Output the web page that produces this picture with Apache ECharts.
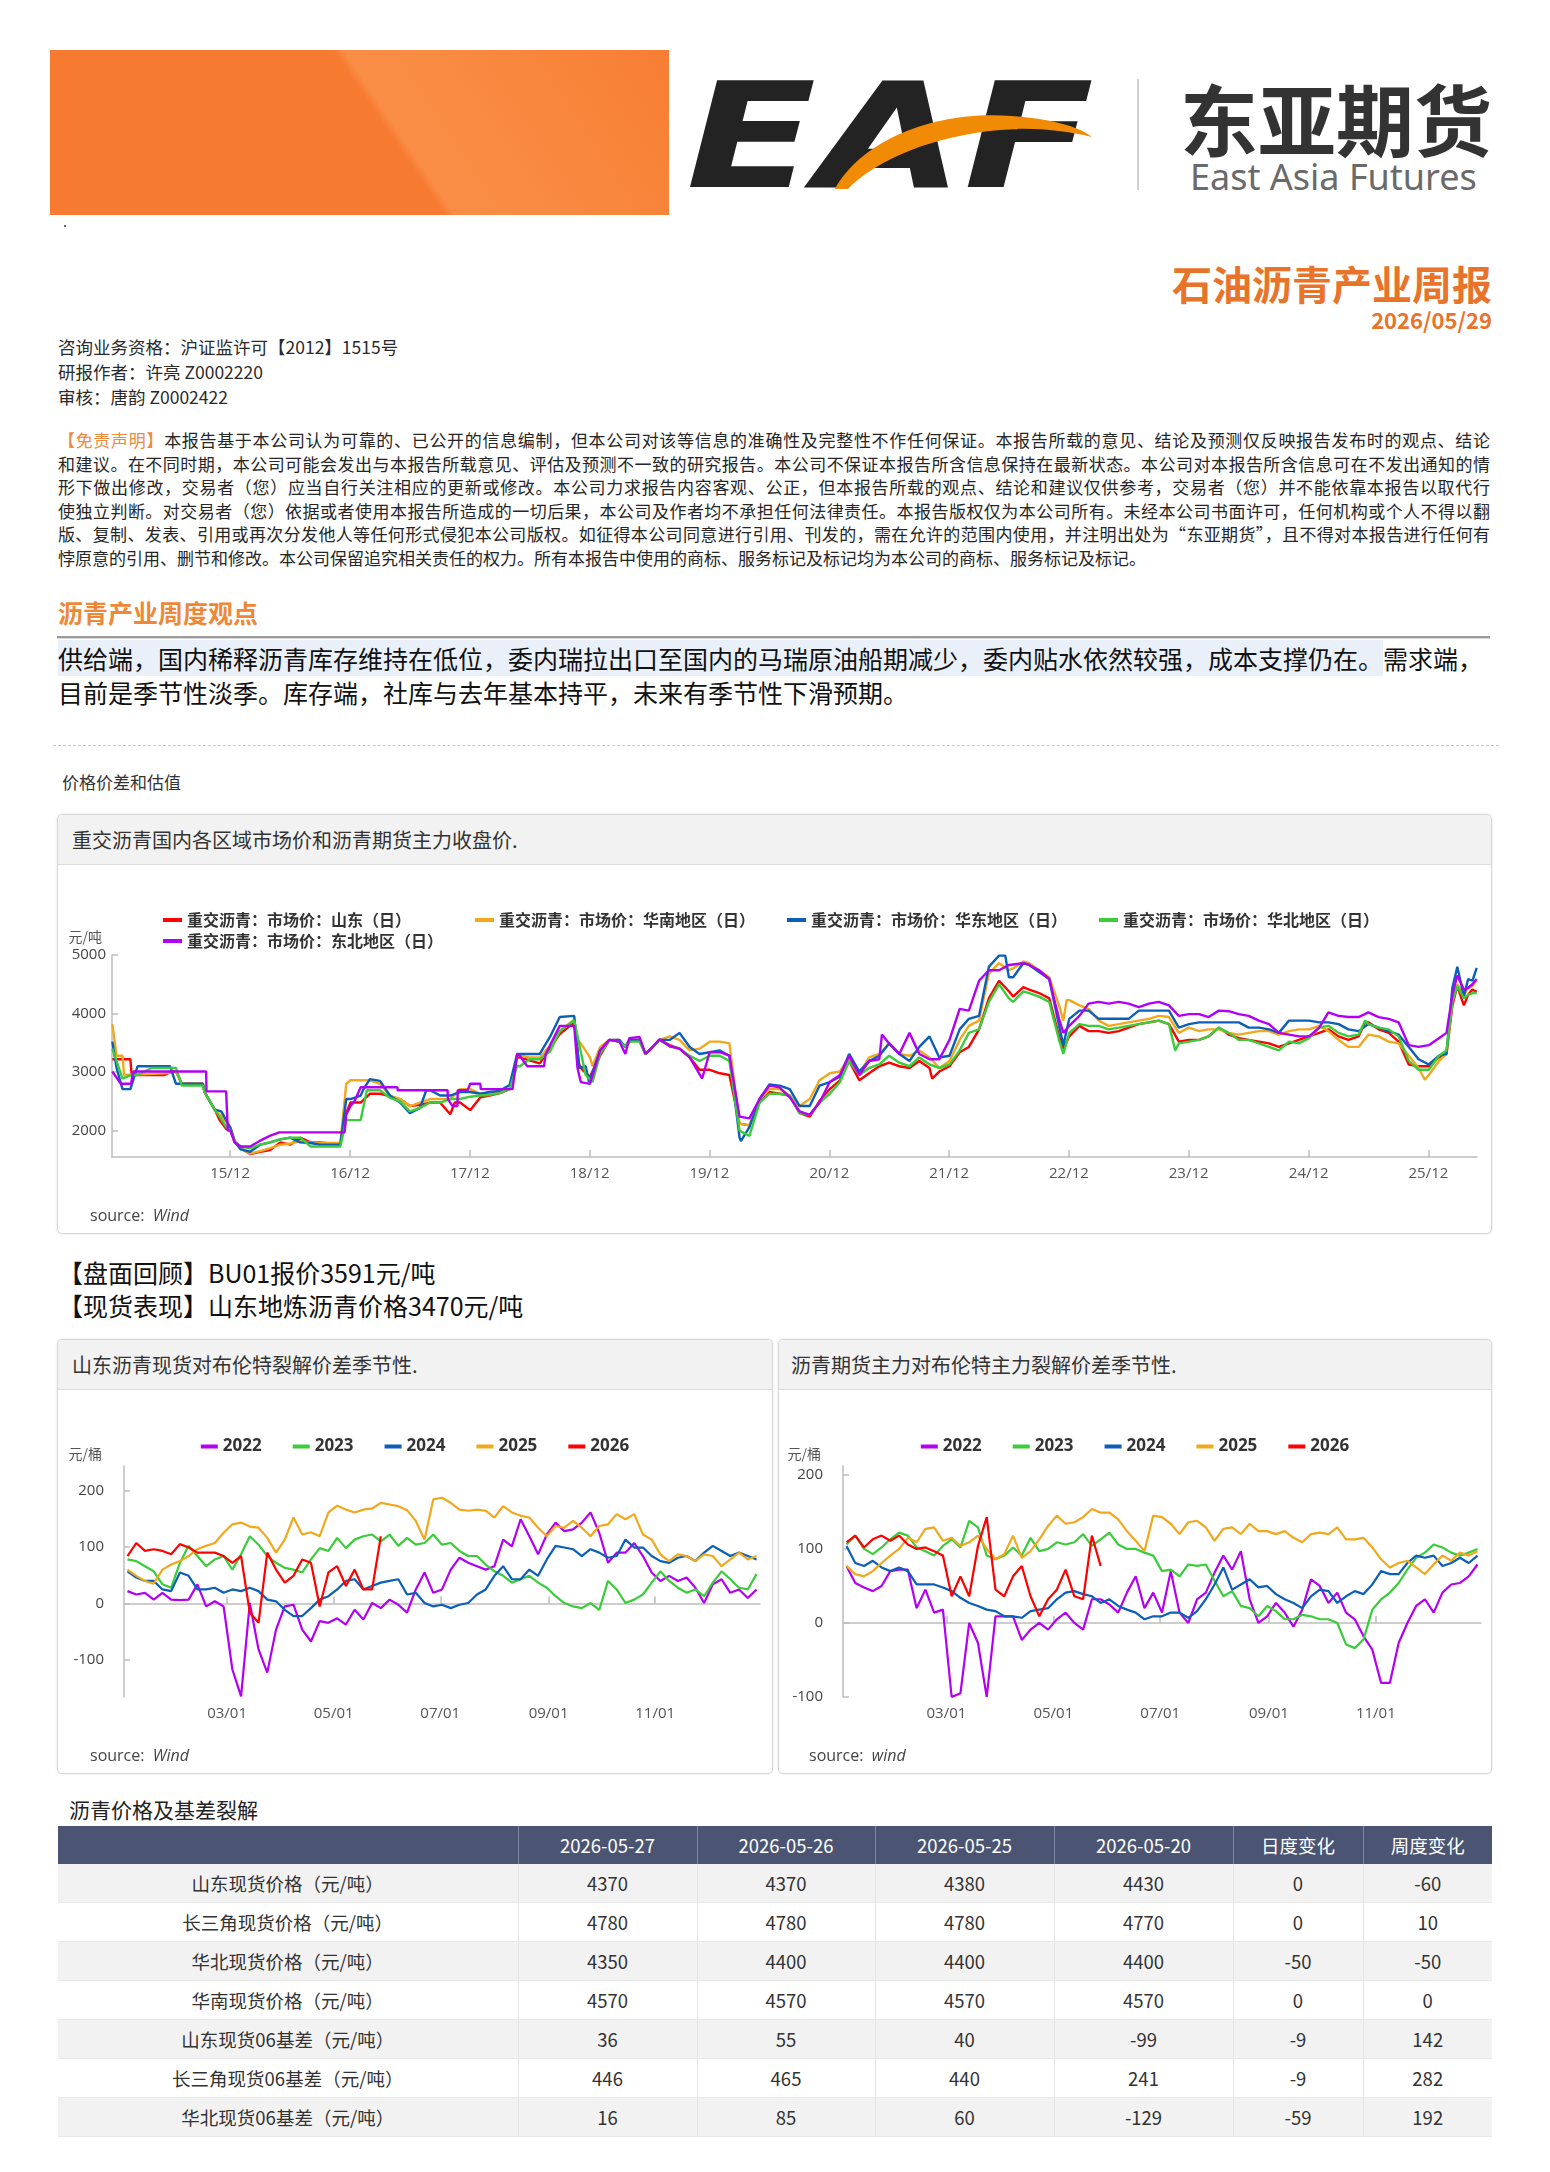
<!DOCTYPE html>
<html><head><meta charset="utf-8">
<script src="https://cdn.jsdelivr.net/npm/echarts@6/dist/echarts.min.js"></script>
<style>
html,body{margin:0;padding:0;background:#fff}
body{width:1550px;height:2172px;position:relative;overflow:hidden;font-family:"Noto Sans CJK SC","Noto Sans",sans-serif;color:#222}
.abs{position:absolute;white-space:nowrap}
.banner{position:absolute;left:50px;top:50px;width:619px;height:165px;
 background:linear-gradient(56deg,#F77A31 0%,#F77A31 54%,#FA8E46 55.5%,#F98A41 70%,#F8843A 85%,#F77E34 100%)}
.info{font-size:17.5px;line-height:20px;color:#2a2a2a;left:58px}
.disc{position:absolute;left:58px;top:428px;width:1432px;font-size:17px;line-height:23.6px;color:#262626}
.disc div{text-align:justify;text-align-last:justify;white-space:nowrap}
.disc div.last{text-align-last:left}
.view{position:absolute;left:58px;width:1417px;font-size:25px;line-height:32px;color:#111}
.card{position:absolute;box-sizing:border-box;border:1px solid #d6d6d6;border-radius:5px;background:#fff;box-shadow:0 0 3px rgba(0,0,0,0.10)}
.card .hd{height:49px;background:#f2f2f2;border-bottom:1px solid #dcdcdc;border-radius:5px 5px 0 0;font-size:20px;line-height:49px;color:#333;white-space:nowrap}
.chart{position:absolute}
table{position:absolute;left:58px;top:1826px;width:1434px;border-collapse:collapse;table-layout:fixed;font-size:18.5px;color:#333}
th{background:#4B5573;color:#fff;font-weight:normal;height:38px;border-left:1px solid #7d86a0;padding:0}
td{height:38px;text-align:center;border-left:1px solid #e4e4e4;border-bottom:1px solid #e8e8e8;padding:0}
tr:nth-child(even) td{background:#F2F2F2}
</style></head>
<body>
<div class="banner"></div>
<svg class="abs" style="left:0;top:0" width="1100" height="230">
 <text x="686" y="187" font-family="DejaVu Sans" font-weight="bold" font-style="italic" font-size="146" textLength="408" lengthAdjust="spacingAndGlyphs" fill="#232323">EAF</text>
 <path d="M 835 189 C 862 140, 935 110, 1012 116 C 1052 119, 1080 127, 1092 137 C 1062 130, 1030 127, 1000 130 C 932 136, 876 160, 848 189 Z" fill="#F18A05"/>
 <rect x="64" y="225" width="2" height="2" fill="#666"/>
</svg>
<div class="abs" style="left:1137px;top:79px;width:2px;height:111px;background:#d0d0d0"></div>
<div class="abs" style="left:1180px;top:87px;font-size:78px;line-height:60px;font-weight:bold;color:#333">东亚期货</div>
<div class="abs" style="left:1190px;top:163px;font-size:36px;line-height:27px;color:#6a6a6a;font-family:'Noto Sans',sans-serif">East Asia Futures</div>

<div class="abs" style="right:58px;top:263px;font-size:40px;line-height:40px;font-weight:bold;color:#E8742C">石油沥青产业周报</div>
<div class="abs" style="right:58px;top:308px;font-size:22px;line-height:22px;font-weight:bold;color:#E8742C">2026/05/29</div>

<div class="abs info" style="top:337px">咨询业务资格：沪证监许可【2012】1515号</div>
<div class="abs info" style="top:362px">研报作者：许亮 Z0002220</div>
<div class="abs info" style="top:387px">审核：唐韵 Z0002422</div>

<div class="disc">
<div><span style="color:#F08A3C">【免责声明】</span>本报告基于本公司认为可靠的、已公开的信息编制，但本公司对该等信息的准确性及完整性不作任何保证。本报告所载的意见、结论及预测仅反映报告发布时的观点、结论</div>
<div>和建议。在不同时期，本公司可能会发出与本报告所载意见、评估及预测不一致的研究报告。本公司不保证本报告所含信息保持在最新状态。本公司对本报告所含信息可在不发出通知的情</div>
<div>形下做出修改，交易者（您）应当自行关注相应的更新或修改。本公司力求报告内容客观、公正，但本报告所载的观点、结论和建议仅供参考，交易者（您）并不能依靠本报告以取代行</div>
<div>使独立判断。对交易者（您）依据或者使用本报告所造成的一切后果，本公司及作者均不承担任何法律责任。本报告版权仅为本公司所有。未经本公司书面许可，任何机构或个人不得以翻</div>
<div>版、复制、发表、引用或再次分发他人等任何形式侵犯本公司版权。如征得本公司同意进行引用、刊发的，需在允许的范围内使用，并注明出处为“东亚期货”，且不得对本报告进行任何有</div>
<div class="last">悖原意的引用、删节和修改。本公司保留追究相关责任的权力。所有本报告中使用的商标、服务标记及标记均为本公司的商标、服务标记及标记。</div>
</div>

<div class="abs" style="left:58px;top:597px;font-size:25px;line-height:30px;font-weight:bold;color:#EE8837">沥青产业周度观点</div>
<div class="abs" style="left:57px;top:636px;width:1433px;height:2px;background:#9b9b9b;border-bottom:1px solid #d8d8d8"></div>
<div class="view" style="top:642px;text-align:justify;text-align-last:justify;white-space:nowrap"><span style="background:#EAF0FA">供给端，国内稀释沥青库存维持在低位，委内瑞拉出口至国内的马瑞原油船期减少，委内贴水依然较强，成本支撑仍在。</span>需求端，</div>
<div class="view" style="top:676px">目前是季节性淡季。库存端，社库与去年基本持平，未来有季节性下滑预期。</div>

<div class="abs" style="left:53px;top:745px;width:1446px;border-top:1px dashed #c9c9c9"></div>
<div class="abs" style="left:62px;top:772px;font-size:17px;line-height:20px;color:#333">价格价差和估值</div>

<div class="card" style="left:57px;top:814px;width:1435px;height:420px"><div class="hd" style="padding-left:14px">重交沥青国内各区域市场价和沥青期货主力收盘价.</div></div>
<div class="chart" id="c1" style="left:58px;top:865px;width:1433px;height:368px"></div>

<div class="abs" style="left:58px;top:1257px;font-size:25px;line-height:30px;color:#111">【盘面回顾】BU01报价3591元/吨</div>
<div class="abs" style="left:58px;top:1290px;font-size:25px;line-height:30px;color:#111">【现货表现】山东地炼沥青价格3470元/吨</div>

<div class="card" style="left:57px;top:1339px;width:716px;height:435px"><div class="hd" style="padding-left:14px">山东沥青现货对布伦特裂解价差季节性.</div></div>
<div class="chart" id="c2" style="left:58px;top:1390px;width:714px;height:383px"></div>
<div class="card" style="left:778px;top:1339px;width:714px;height:435px"><div class="hd" style="padding-left:12px">沥青期货主力对布伦特主力裂解价差季节性.</div></div>
<div class="chart" id="c3" style="left:779px;top:1390px;width:712px;height:383px"></div>

<div class="abs" style="left:69px;top:1796px;font-size:21px;line-height:26px;color:#222">沥青价格及基差裂解</div>
<table id="tbl"></table>

<script>
// ---------------- chart 1: regional market prices (元/吨) ----------------
const priceLegend = ['重交沥青：市场价：山东（日）','重交沥青：市场价：华南地区（日）','重交沥青：市场价：华东地区（日）','重交沥青：市场价：华北地区（日）','重交沥青：市场价：东北地区（日）'];
const priceColors = ['#FF0000','#F2A81D','#0B5FB8','#3ACC3A','#B300F5'];
const priceTickYears = [2015,2016,2017,2018,2019,2020,2021,2022,2023,2024,2025];
const priceYTicks = [2000,3000,4000,5000];

const shandong = [['2015-01-06',3220],['2015-03-02',3220],['2015-03-06',2950],['2015-06-14',2950],['2015-07-06',3010],['2015-07-19',3010],['2015-08-06',2800],['2015-10-09',2800],['2015-10-14',2660],['2015-11-14',2360],['2015-11-29',2180],['2015-12-19',2030],['2016-01-01',2000],['2016-01-14',1800],['2016-02-01',1700],['2016-03-01',1600],['2016-04-01',1640],['2016-05-01',1670],['2016-06-01',1800],['2016-07-01',1760],['2016-08-01',1880],['2016-09-01',1800],['2016-10-01',1800],['2016-11-01',1780],['2016-12-01',1780],['2016-12-19',2300],['2017-01-01',2480],['2017-02-01',2480],['2017-03-01',2630],['2017-04-01',2630],['2017-05-01',2590],['2017-06-01',2540],['2017-07-01',2420],['2017-08-01',2440],['2017-09-01',2480],['2017-10-01',2480],['2017-11-01',2280],['2017-11-15',2480],['2017-12-01',2480],['2018-01-01',2350],['2018-02-01',2570],['2018-03-01',2600],['2018-04-01',2640],['2018-05-01',2710],['2018-05-24',3250],['2018-06-01',3250],['2018-07-01',3200],['2018-08-01',3150],['2018-09-01',3400],['2018-10-01',3650],['2018-11-14',3850],['2018-11-29',3130],['2018-12-09',3040],['2019-01-01',2920],['2019-02-01',3280],['2019-03-01',3550],['2019-04-01',3520],['2019-04-19',3430],['2019-05-01',3520],['2019-06-01',3550],['2019-06-19',3310],['2019-07-01',3370],['2019-08-01',3550],['2019-09-01',3460],['2019-10-01',3400],['2019-11-01',3250],['2019-12-01',3040],['2020-01-01',3040],['2020-02-01',2980],['2020-03-01',2950],['2020-04-01',2120],['2020-05-01',2090],['2020-06-01',2480],['2020-07-01',2660],['2020-08-01',2630],['2020-09-01',2600],['2020-10-01',2300],['2020-11-01',2240],['2020-12-01',2510],['2021-01-01',2710],['2021-02-01',2860],['2021-03-01',3190],['2021-04-01',2860],['2021-05-01',2980],['2021-06-01',3100],['2021-07-01',3160],['2021-08-01',3100],['2021-09-01',3070],['2021-10-01',3190],['2021-11-01',3070],['2021-11-09',2890],['2021-12-01',3010],['2022-01-01',3100],['2022-02-01',3340],['2022-03-01',3430],['2022-04-01',3730],['2022-05-01',4260],['2022-06-01',4560],['2022-07-01',4380],['2022-07-14',4290],['2022-08-14',4450],['2022-09-01',4410],['2022-10-01',4350],['2022-11-01',4260],['2022-12-01',3610],['2022-12-14',3400],['2023-01-01',3610],['2023-02-01',3790],['2023-03-01',3700],['2023-04-01',3700],['2023-05-01',3670],['2023-06-01',3700],['2023-07-01',3760],['2023-08-01',3820],['2023-09-01',3850],['2023-10-01',3880],['2023-11-01',3820],['2023-12-01',3520],['2024-01-01',3550],['2024-02-01',3550],['2024-03-01',3610],['2024-04-01',3760],['2024-05-01',3640],['2024-06-01',3580],['2024-07-01',3550],['2024-08-01',3520],['2024-09-01',3490],['2024-10-01',3430],['2024-11-01',3490],['2024-12-01',3550],['2025-01-01',3610],['2025-02-01',3670],['2025-03-01',3730],['2025-04-01',3610],['2025-05-01',3550],['2025-06-01',3610],['2025-06-21',3850],['2025-07-01',3850],['2025-08-01',3730],['2025-09-01',3670],['2025-10-01',3520],['2025-11-01',3130],['2025-12-01',3100],['2026-01-01',3100],['2026-02-01',3250],['2026-02-24',3310],['2026-03-14',4140],['2026-03-29',4470],['2026-04-18',4140],['2026-05-01',4320],['2026-05-14',4410],['2026-05-27',4370]];

const huanan = [['2015-01-06',3820],['2015-01-19',3280],['2015-02-06',3280],['2015-02-11',2950],['2015-06-14',2980],['2015-07-19',3010],['2015-08-06',2800],['2015-10-09',2800],['2015-10-14',2660],['2015-11-14',2360],['2015-12-04',2250],['2016-01-01',2050],['2016-01-14',1820],['2016-02-01',1690],['2016-03-01',1610],['2016-04-01',1650],['2016-05-01',1700],['2016-06-01',1760],['2016-07-01',1780],['2016-08-01',1820],['2016-09-01',1800],['2016-10-01',1790],['2016-11-01',1790],['2016-12-01',1790],['2016-12-19',2800],['2017-01-01',2860],['2017-02-01',2860],['2017-03-01',2860],['2017-04-01',2800],['2017-05-01',2600],['2017-06-01',2540],['2017-07-01',2420],['2017-08-01',2480],['2017-09-01',2540],['2017-10-01',2540],['2017-11-01',2540],['2017-12-01',2710],['2018-01-01',2710],['2018-02-01',2630],['2018-03-01',2630],['2018-04-01',2660],['2018-05-01',2710],['2018-05-24',3280],['2018-06-01',3280],['2018-07-01',3250],['2018-08-01',3250],['2018-09-01',3450],['2018-10-01',3700],['2018-11-14',3900],['2018-11-24',3550],['2018-12-04',3490],['2019-01-01',3250],['2019-01-09',3100],['2019-02-01',3430],['2019-03-01',3550],['2019-04-01',3550],['2019-04-19',3430],['2019-05-01',3550],['2019-06-01',3550],['2019-06-19',3310],['2019-07-01',3370],['2019-08-01',3550],['2019-09-01',3610],['2019-10-01',3550],['2019-11-01',3370],['2019-12-01',3400],['2020-01-01',3520],['2020-02-01',3520],['2020-03-01',3490],['2020-04-01',2120],['2020-05-01',2090],['2020-06-01',2540],['2020-07-01',2710],['2020-08-01',2710],['2020-09-01',2600],['2020-10-01',2420],['2020-11-01',2540],['2020-12-01',2860],['2021-01-01',2980],['2021-02-01',3010],['2021-03-01',3250],['2021-04-01',2980],['2021-05-01',3250],['2021-06-01',3310],['2021-07-01',3490],['2021-08-01',3310],['2021-09-01',3280],['2021-10-01',3370],['2021-11-01',3250],['2021-12-01',3070],['2022-01-01',3190],['2022-02-01',3550],['2022-03-01',3790],['2022-04-01',3880],['2022-05-01',4680],['2022-06-01',4860],['2022-07-01',4740],['2022-07-14',4770],['2022-08-14',4890],['2022-09-01',4860],['2022-10-01',4740],['2022-11-01',4620],['2022-12-01',4140],['2022-12-14',3880],['2022-12-24',4230],['2023-01-01',4230],['2023-02-01',4140],['2023-03-01',4080],['2023-04-01',3880],['2023-05-01',3790],['2023-06-01',3820],['2023-07-01',3850],['2023-08-01',3880],['2023-09-01',3910],['2023-10-01',3960],['2023-11-01',3940],['2023-12-01',3670],['2024-01-01',3760],['2024-02-01',3700],['2024-03-01',3730],['2024-04-01',3730],['2024-05-01',3670],['2024-06-01',3640],['2024-07-01',3670],['2024-08-01',3700],['2024-09-01',3700],['2024-10-01',3640],['2024-11-01',3700],['2024-12-01',3730],['2025-01-01',3730],['2025-02-01',3790],['2025-03-01',3700],['2025-04-01',3550],['2025-05-01',3430],['2025-06-01',3430],['2025-07-01',3640],['2025-08-01',3610],['2025-09-01',3520],['2025-10-01',3490],['2025-11-01',3280],['2025-12-01',3070],['2025-12-20',2870],['2026-01-01',2950],['2026-02-01',3190],['2026-02-24',3310],['2026-03-14',4260],['2026-03-29',4500],['2026-04-18',4320],['2026-05-01',4440],['2026-05-14',4470],['2026-05-27',4570]];

const huadong = [['2015-01-06',3520],['2015-01-19',3070],['2015-02-06',2710],['2015-03-02',2710],['2015-03-24',3100],['2015-07-01',3100],['2015-07-19',2800],['2015-10-09',2800],['2015-10-14',2660],['2015-11-14',2360],['2015-12-04',2330],['2016-01-01',2050],['2016-01-14',1820],['2016-02-01',1680],['2016-03-01',1640],['2016-04-01',1760],['2016-05-01',1800],['2016-06-01',1850],['2016-07-01',1880],['2016-08-01',1800],['2016-09-01',1790],['2016-10-01',1760],['2016-11-01',1760],['2016-12-01',1760],['2016-12-19',2540],['2017-01-01',2540],['2017-02-01',2600],['2017-02-10',2710],['2017-03-01',2880],['2017-04-01',2850],['2017-05-01',2600],['2017-06-01',2480],['2017-07-01',2300],['2017-08-01',2390],['2017-08-20',2690],['2017-09-01',2690],['2017-10-01',2600],['2017-11-01',2600],['2017-12-01',2660],['2018-01-01',2660],['2018-02-01',2630],['2018-03-01',2660],['2018-04-01',2680],['2018-05-01',2780],['2018-05-24',3310],['2018-06-01',3310],['2018-07-01',3310],['2018-08-01',3310],['2018-09-01',3600],['2018-10-01',3940],['2018-11-14',3960],['2018-11-29',3070],['2018-12-19',3100],['2018-12-29',2830],['2019-01-01',2830],['2019-02-01',3370],['2019-03-01',3550],['2019-04-01',3550],['2019-04-19',3430],['2019-05-01',3550],['2019-06-01',3550],['2019-06-19',3310],['2019-07-01',3370],['2019-08-01',3550],['2019-09-01',3550],['2019-10-01',3670],['2019-11-01',3430],['2019-12-01',3310],['2020-01-01',3340],['2020-02-01',3370],['2020-03-01',3280],['2020-04-01',1880],['2020-04-05',1820],['2020-05-01',2060],['2020-06-01',2540],['2020-07-01',2790],['2020-08-01',2770],['2020-09-01',2710],['2020-10-01',2420],['2020-11-01',2420],['2020-12-01',2770],['2021-01-01',2830],['2021-02-01',2920],['2021-03-01',3310],['2021-04-01',3010],['2021-05-01',3190],['2021-06-01',3280],['2021-07-01',3490],['2021-08-01',3310],['2021-09-01',3190],['2021-10-01',3430],['2021-11-01',3610],['2021-12-01',3250],['2022-01-01',3280],['2022-02-01',3730],['2022-03-01',3910],['2022-04-01',3960],['2022-05-01',4800],['2022-06-01',4990],['2022-06-20',4990],['2022-07-01',4620],['2022-07-14',4620],['2022-08-14',4860],['2022-09-01',4830],['2022-10-01',4710],['2022-11-01',4590],['2022-12-01',3790],['2022-12-14',3460],['2023-01-01',3910],['2023-02-01',4050],['2023-03-01',4050],['2023-04-01',3910],['2023-05-01',3910],['2023-06-01',3910],['2023-07-01',3910],['2023-08-01',4050],['2023-09-01',4050],['2023-10-01',4050],['2023-11-01',4050],['2023-12-01',3760],['2024-01-01',3820],['2024-02-01',3850],['2024-03-01',3850],['2024-04-01',3850],['2024-05-01',3850],['2024-06-01',3850],['2024-07-01',3760],['2024-08-01',3760],['2024-09-01',3730],['2024-10-01',3670],['2024-11-01',3880],['2024-12-01',3880],['2025-01-01',3880],['2025-02-01',3850],['2025-03-01',3850],['2025-04-01',3820],['2025-05-01',3730],['2025-06-01',3700],['2025-07-01',3820],['2025-08-01',3760],['2025-09-01',3700],['2025-10-01',3640],['2025-11-01',3430],['2025-12-01',3220],['2026-01-01',3130],['2026-02-01',3280],['2026-02-24',3310],['2026-03-14',4440],['2026-03-29',4800],['2026-04-18',4290],['2026-05-01',4590],['2026-05-14',4560],['2026-05-27',4780]];

const huabei = [['2015-01-06',3400],['2015-02-06',2890],['2015-03-04',2950],['2015-03-24',2950],['2015-05-06',3070],['2015-07-19',3070],['2015-08-06',2770],['2015-10-09',2770],['2015-10-14',2660],['2015-11-14',2360],['2015-11-29',2240],['2015-12-19',2060],['2016-01-01',2000],['2016-01-14',1820],['2016-02-01',1730],['2016-03-01',1700],['2016-04-01',1760],['2016-05-01',1800],['2016-06-01',1850],['2016-07-01',1880],['2016-08-01',1880],['2016-09-01',1730],['2016-10-01',1730],['2016-11-01',1730],['2016-12-01',1730],['2016-12-19',2180],['2017-01-01',2180],['2017-02-01',2180],['2017-02-20',2690],['2017-03-01',2690],['2017-04-01',2690],['2017-05-01',2560],['2017-06-01',2500],['2017-07-01',2330],['2017-08-01',2390],['2017-09-01',2480],['2017-10-01',2480],['2017-11-01',2540],['2017-12-01',2540],['2018-01-01',2580],['2018-02-01',2600],['2018-03-01',2610],['2018-04-01',2640],['2018-05-01',2710],['2018-05-24',3100],['2018-06-01',3100],['2018-07-01',3220],['2018-08-01',3220],['2018-09-01',3350],['2018-10-01',3700],['2018-11-14',3880],['2018-12-19',2950],['2019-01-09',2830],['2019-02-01',3310],['2019-03-01',3550],['2019-04-01',3520],['2019-04-19',3430],['2019-05-01',3520],['2019-06-01',3520],['2019-06-19',3310],['2019-07-01',3370],['2019-08-01',3550],['2019-09-01',3440],['2019-10-01',3400],['2019-11-01',3280],['2019-12-01',3190],['2020-01-01',3280],['2020-02-01',3280],['2020-03-01',3190],['2020-04-01',2000],['2020-05-01',1910],['2020-06-01',2480],['2020-07-01',2630],['2020-08-01',2630],['2020-09-01',2600],['2020-10-01',2300],['2020-11-01',2270],['2020-12-01',2480],['2021-01-01',2630],['2021-02-01',2830],['2021-03-01',3190],['2021-04-01',2950],['2021-05-01',3070],['2021-06-01',3130],['2021-07-01',3280],['2021-08-01',3160],['2021-09-01',3100],['2021-10-01',3250],['2021-11-01',3130],['2021-12-01',3070],['2022-01-01',3130],['2022-02-01',3370],['2022-03-01',3670],['2022-04-01',3730],['2022-05-01',4200],['2022-06-01',4500],['2022-07-01',4260],['2022-07-14',4200],['2022-08-14',4380],['2022-09-01',4350],['2022-10-01',4290],['2022-11-01',4200],['2022-12-01',3550],['2022-12-14',3310],['2023-01-01',3670],['2023-02-01',3820],['2023-03-01',3790],['2023-04-01',3790],['2023-05-01',3730],['2023-06-01',3760],['2023-07-01',3790],['2023-08-01',3820],['2023-09-01',3850],['2023-10-01',3880],['2023-11-01',3820],['2023-11-20',3370],['2023-12-01',3490],['2024-01-01',3520],['2024-02-01',3550],['2024-03-01',3610],['2024-04-01',3760],['2024-05-01',3670],['2024-06-01',3550],['2024-07-01',3550],['2024-08-01',3490],['2024-09-01',3430],['2024-10-01',3370],['2024-11-01',3520],['2024-12-01',3490],['2025-01-01',3580],['2025-02-01',3760],['2025-03-01',3790],['2025-04-01',3670],['2025-05-01',3610],['2025-06-01',3640],['2025-06-21',3880],['2025-07-01',3820],['2025-08-01',3760],['2025-09-01',3730],['2025-10-01',3610],['2025-11-01',3190],['2025-12-01',3040],['2026-01-01',3040],['2026-02-01',3280],['2026-02-24',3370],['2026-03-14',4200],['2026-03-29',4470],['2026-04-18',4260],['2026-05-01',4320],['2026-05-14',4350],['2026-05-27',4350]];

const dongbei = [['2015-01-06',3010],['2015-02-01',2800],['2015-03-04',2800],['2015-03-11',3010],['2015-10-19',3010],['2015-10-20',2670],['2015-12-19',2670],['2015-12-24',2000],['2016-01-01',2000],['2016-01-14',1800],['2016-02-01',1730],['2016-03-01',1730],['2016-03-29',1820],['2016-04-30',1910],['2016-05-29',1970],['2016-12-14',1970],['2016-12-19',2270],['2017-01-01',2420],['2017-01-14',2510],['2017-02-01',2740],['2017-05-24',2740],['2017-05-25',2690],['2017-10-24',2690],['2017-10-25',2540],['2017-11-08',2420],['2017-11-23',2420],['2017-11-24',2690],['2017-12-24',2690],['2018-01-01',2800],['2018-02-01',2800],['2018-02-02',2710],['2018-05-10',2710],['2018-05-24',3310],['2018-06-01',3280],['2018-06-24',3100],['2018-08-14',3100],['2018-08-19',3310],['2018-10-01',3790],['2018-11-14',3790],['2018-11-24',3070],['2018-12-04',2830],['2019-01-01',2800],['2019-02-01',3370],['2019-03-01',3550],['2019-04-01',3520],['2019-04-19',3310],['2019-05-01',3580],['2019-06-01',3600],['2019-06-19',3310],['2019-07-01',3370],['2019-08-01',3560],['2019-09-01',3440],['2019-10-01',3400],['2019-11-01',3250],['2019-12-09',2890],['2020-01-01',3340],['2020-02-01',3340],['2020-03-01',3280],['2020-04-01',2240],['2020-05-01',2210],['2020-06-01',2540],['2020-07-01',2770],['2020-08-01',2740],['2020-09-01',2570],['2020-10-01',2330],['2020-11-01',2270],['2020-12-01',2480],['2021-01-01',2830],['2021-02-01',2950],['2021-03-01',3280],['2021-04-01',2950],['2021-05-01',3190],['2021-06-01',3220],['2021-06-09',3640],['2021-07-01',3490],['2021-08-01',3310],['2021-09-01',3670],['2021-10-01',3310],['2021-11-01',3220],['2021-12-01',3220],['2022-01-01',3550],['2022-02-01',4080],['2022-03-01',4050],['2022-04-01',4560],['2022-05-01',4740],['2022-06-01',4740],['2022-07-01',4830],['2022-08-14',4860],['2022-09-01',4830],['2022-10-01',4740],['2022-11-01',4590],['2022-12-01',3910],['2022-12-14',3670],['2023-01-01',3790],['2023-02-01',3960],['2023-03-01',4170],['2023-04-01',4200],['2023-05-01',4170],['2023-06-01',4200],['2023-07-01',4170],['2023-08-01',4110],['2023-09-01',4170],['2023-10-01',4200],['2023-11-01',4140],['2023-12-01',3960],['2024-01-01',3990],['2024-02-01',3990],['2024-03-01',3940],['2024-04-01',4050],['2024-05-01',4040],['2024-06-01',3990],['2024-07-01',3960],['2024-08-01',3880],['2024-09-01',3820],['2024-10-01',3670],['2024-11-01',3640],['2024-12-01',3610],['2025-01-01',3610],['2025-02-01',3760],['2025-03-01',4020],['2025-04-01',3960],['2025-05-01',3940],['2025-06-01',3940],['2025-07-01',4020],['2025-08-01',3940],['2025-09-01',3910],['2025-10-01',3850],['2025-11-01',3460],['2025-12-01',3430],['2026-01-01',3460],['2026-02-01',3580],['2026-02-24',3670],['2026-03-14',4320],['2026-03-29',4650],['2026-04-18',4410],['2026-05-01',4440],['2026-05-14',4500],['2026-05-27',4590]];

// ---------------- seasonal charts (元/桶), one value every 5 days from 01/03 ----------------
const seasonYears = ['2022','2023','2024','2025','2026'];
const seasonColors = ['#B300F5','#3ACC3A','#0B5FB8','#F2A81D','#FF0000'];
const seasonTickDates = ['03/01','05/01','07/01','09/01','11/01'];
const seasonYTicks = [-100,0,100,200];

const spot2022 = [22,16,19,7,19,7,6,7,34,-5,4,-5,-116,-164,1,-81,-122,-46,-5,-2,-46,-67,-31,-34,-26,-37,-11,-28,1,-8,7,-2,-16,25,55,19,25,60,81,72,66,60,66,113,101,149,119,87,122,143,128,131,143,161,125,72,90,90,107,84,55,40,49,40,46,28,1,34,43,19,25,10,25];
const spot2023 = [78,75,66,57,34,28,72,102,84,66,78,84,60,87,119,104,84,72,63,60,55,78,98,93,116,98,113,119,122,110,122,102,116,104,107,122,104,107,93,84,84,69,57,49,37,43,49,37,28,13,1,-5,-8,1,-11,40,25,1,7,16,37,57,40,28,19,25,13,37,57,43,28,25,52];
const spot2024 = [57,46,40,40,25,22,55,49,25,25,28,19,25,22,28,22,7,4,-11,-22,-22,-8,7,13,25,40,43,25,31,37,40,43,16,19,1,-5,-2,-8,-2,1,16,25,49,66,43,43,60,49,78,102,99,96,84,96,90,81,84,113,99,99,84,75,72,81,84,75,90,102,93,84,90,84,78];
const spot2025 = [60,49,40,35,60,69,75,84,96,102,107,125,140,143,136,134,116,90,113,152,122,126,119,161,173,166,161,166,168,178,175,172,165,146,113,184,187,178,166,164,166,164,152,172,161,155,152,134,119,137,134,146,134,119,137,140,158,149,158,122,113,87,75,87,84,75,87,84,66,78,90,78,84];
const spot2026 = [84,107,93,96,93,87,105,99,90,90,90,84,72,84,-16,-34,90,60,37,49,78,72,-5,55,66,31,60,25,25,119];

const fut2022 = [77,54,48,43,50,70,72,72,20,45,14,18,-100,-95,0,-27,-100,9,9,9,-23,-9,0,-9,5,14,0,-9,32,32,25,14,41,63,20,41,14,70,14,0,32,41,68,91,72,97,32,0,9,27,14,-5,18,59,50,27,41,14,5,-18,-36,-81,-81,-27,0,23,32,14,41,52,54,63,79];
const fut2023 = [106,118,100,93,102,113,122,118,102,97,91,104,113,102,138,129,91,86,91,102,91,115,97,100,109,106,109,120,104,113,122,106,100,100,95,91,70,72,63,79,77,79,57,36,43,23,20,9,23,16,5,5,11,9,5,5,0,-29,-34,-22,18,32,41,54,72,88,95,106,102,95,91,95,100];
const fut2024 = [104,81,77,84,75,70,75,70,52,52,52,48,43,34,27,23,18,16,9,9,7,16,18,20,32,41,43,39,36,27,32,23,18,14,5,9,9,14,14,7,16,32,52,75,45,52,59,48,50,39,32,27,20,36,45,43,27,36,43,39,52,70,66,66,81,91,88,91,77,81,88,81,91];
const fut2025 = [77,66,63,70,81,91,100,115,109,127,129,111,115,104,109,118,100,86,93,118,88,97,113,131,145,134,136,143,154,149,149,140,124,111,97,145,143,134,120,136,138,129,111,127,129,120,134,124,124,120,124,115,109,120,122,120,129,113,113,115,102,86,75,81,84,75,66,79,91,84,95,91,97];
const fut2026 = [109,118,102,113,118,111,118,106,100,102,97,91,36,63,36,104,143,45,36,63,77,36,9,32,45,72,36,32,118,77];

// ---------------- table ----------------
const tableDates = ['2026-05-27','2026-05-26','2026-05-25','2026-05-20'];
const tableRows = ['山东现货价格（元/吨）','长三角现货价格（元/吨）','华北现货价格（元/吨）','华南现货价格（元/吨）','山东现货06基差（元/吨）','长三角现货06基差（元/吨）','华北现货06基差（元/吨）'];
const tableValues = [
 [4370,4370,4380,4430,0,-60],
 [4780,4780,4780,4770,0,10],
 [4350,4400,4400,4400,-50,-50],
 [4570,4570,4570,4570,0,0],
 [36,55,40,-99,-9,142],
 [446,465,440,241,-9,282],
 [16,85,60,-129,-59,192]
];

// ================= rendering =================
(function(){
  const widths = [460,179,178,179,179,130,129];
  let h = '<colgroup>' + widths.map(w => '<col style="width:' + w + 'px">').join('') + '</colgroup>';
  h += '<tr><th style="border-left:none"></th>' + tableDates.map(d => '<th>' + d + '</th>').join('') + '<th>日度变化</th><th>周度变化</th></tr>';
  tableRows.forEach((r,i) => {
    h += '<tr><td style="border-left:none">' + r + '</td>' + tableValues[i].map(v => '<td>' + v + '</td>').join('') + '</tr>';
  });
  document.getElementById('tbl').innerHTML = h;
})();

const CJK = '"Noto Sans CJK SC","Noto Sans",sans-serif';
const NUM = '"Open Sans","Noto Sans",sans-serif';
const pad = n => (n < 10 ? '0' : '') + n;
const toTime = s => { const p = s.split('-'); return new Date(+p[0], +p[1]-1, +p[2]).getTime(); };
const plain = v => String(v);

function sourceGraphic(left, top, word){
  return [{type:'text', left:left, top:top, silent:true,
    style:{text:'{a|source:  }{b|' + word + '}', rich:{
      a:{fontSize:16, fill:'#444', fontFamily:NUM},
      b:{fontSize:16, fill:'#444', fontFamily:NUM, fontStyle:'italic'}}}}];
}

// ---- chart 1 (x: dates on a numeric scale so the Dec tick marks can be placed exactly)
try {
  const tickVals = priceTickYears.map(y => new Date(y, 11, 31).getTime());
  const all = [shandong, huanan, huadong, huabei, dongbei];
  const ch = echarts.init(document.getElementById('c1'));
  ch.setOption({
    animation:false,
    textStyle:{fontFamily:CJK},
    legend:{left:100, top:42, width:1260, itemGap:5, itemWidth:19, itemHeight:4, icon:'rect',
      textStyle:{fontSize:16, fontWeight:'bold', color:'#333', width:283, lineHeight:16, fontFamily:CJK},
      data:priceLegend},
    grid:{left:54, right:14, top:90, bottom:76, outerBoundsMode:'none', containLabel:false},
    xAxis:{type:'value', min:new Date(2015,0,5).getTime(), max:new Date(2026,4,28).getTime(),
      axisLine:{show:true, lineStyle:{color:'#bdbdbd', width:1.5}},
      axisTick:{show:true, inside:true, length:7, customValues:tickVals, lineStyle:{color:'#bdbdbd', width:1.5}},
      axisLabel:{customValues:tickVals, fontSize:15, color:'#555', margin:9, fontFamily:NUM,
        formatter:v => { const d = new Date(v); return String(d.getFullYear()).slice(2) + '/' + pad(d.getMonth()+1); }},
      splitLine:{show:false}},
    yAxis:{type:'value', min:1550, max:5000, name:'元/吨', nameLocation:'end', nameGap:18,
      nameTextStyle:{align:'right', verticalAlign:'middle', padding:[0,10,0,0], fontSize:14, color:'#555', fontFamily:CJK},
      axisLine:{show:true, lineStyle:{color:'#bdbdbd', width:1.5}},
      axisTick:{show:true, inside:true, length:6, customValues:priceYTicks, lineStyle:{color:'#bdbdbd', width:1.5}},
      axisLabel:{customValues:priceYTicks, fontSize:15, color:'#444', margin:6, fontFamily:NUM, formatter:plain},
      splitLine:{show:false}},
    series: all.map((d,i) => ({name:priceLegend[i], type:'line', showSymbol:false, symbol:'none',
      data:d.map(p => [toTime(p[0]), p[1]]),
      lineStyle:{width:2.4, color:priceColors[i]}, itemStyle:{color:priceColors[i]}, emphasis:{disabled:true}})),
    graphic: sourceGraphic(32, 343, 'Wind')
  });
} catch(e) { console.error(e); }

// ---- seasonal charts
function seasonal(id, seriesList, ymin, ymax, gridLeft, gridRight, srcLeft, srcWord){
  const DAY = 86400000;
  const start = new Date(2021, 0, 1).getTime();       // year-agnostic seasonal axis
  const tickVals = seasonTickDates.map(s => { const p = s.split('/'); return new Date(2021, +p[0]-1, +p[1]).getTime(); });
  const ch = echarts.init(document.getElementById(id));
  ch.setOption({
    animation:false,
    textStyle:{fontFamily:CJK},
    legend:{left:'center', top:43, itemGap:31, itemWidth:17, itemHeight:4, icon:'rect',
      textStyle:{fontSize:17, fontWeight:'bold', color:'#333', fontFamily:NUM}, data:seasonYears},
    grid:{left:gridLeft, right:gridRight, top:76, bottom:76, outerBoundsMode:'none', containLabel:false},
    xAxis:{type:'value', min:start, max:new Date(2021, 11, 31).getTime(),
      axisLine:{show:true, lineStyle:{color:'#bdbdbd', width:1.5}},
      axisTick:{show:true, inside:true, length:7, customValues:tickVals, lineStyle:{color:'#bdbdbd', width:1.5}},
      axisLabel:{customValues:tickVals, fontSize:15, color:'#555', margin:9, fontFamily:NUM,
        formatter:v => { const d = new Date(v); return pad(d.getMonth()+1) + '/' + pad(d.getDate()); }},
      splitLine:{show:false}},
    yAxis:{type:'value', min:ymin, max:ymax, name:'元/桶', nameLocation:'end', nameGap:12,
      nameTextStyle:{align:'right', verticalAlign:'middle', padding:[0,22,0,0], fontSize:14, color:'#555', fontFamily:CJK},
      axisLine:{show:true, lineStyle:{color:'#bdbdbd', width:1.5}},
      axisTick:{show:true, inside:true, length:6, customValues:seasonYTicks, lineStyle:{color:'#bdbdbd', width:1.5}},
      axisLabel:{customValues:seasonYTicks, fontSize:15, color:'#444', margin:20, fontFamily:NUM, formatter:plain},
      splitLine:{show:false}},
    series: seriesList.map((vals,i) => ({name:seasonYears[i], type:'line', showSymbol:false, symbol:'none',
      data: vals.map((v,k) => [start + (2 + 5*k) * DAY, v]),
      lineStyle:{width:2.2, color:seasonColors[i]}, itemStyle:{color:seasonColors[i]}, emphasis:{disabled:true}})),
    graphic: sourceGraphic(srcLeft, 358, srcWord)
  });
}
try { seasonal('c2', [spot2022, spot2023, spot2024, spot2025, spot2026], -165, 243, 66, 12, 32, 'Wind'); } catch(e) { console.error(e); }
try { seasonal('c3', [fut2022, fut2023, fut2024, fut2025, fut2026], -100, 212, 64, 10, 30, 'wind'); } catch(e) { console.error(e); }
</script>
</body></html>
